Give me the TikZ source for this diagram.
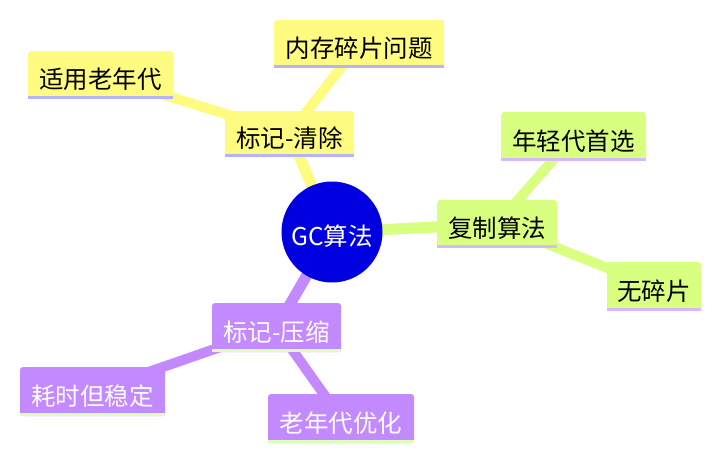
\documentclass[tikz,border=0pt]{standalone}
\usepackage{fontspec}
\setmainfont{Noto Sans CJK SC}
\usetikzlibrary{backgrounds}
\definecolor{yel}{HTML}{FFFB80}
\definecolor{grn}{HTML}{D9FF80}
\definecolor{pur}{HTML}{C389FF}
\definecolor{rootblue}{HTML}{0000E0}
\definecolor{ulyel}{HTML}{B3B3FF}
\definecolor{ulgrn}{HTML}{D6B8FF}
\definecolor{ulpur}{HTML}{DCFFB8}
\tikzset{
  mmtext/.style={font=\fontsize{24.5}{28}\selectfont, text height=27pt, text depth=0pt},
  mmbox/.style={rectangle, rounded corners=3pt, inner sep=0pt, anchor=center, mmtext},
  ybox/.style={mmbox, fill=yel, text=black},
  gbox/.style={mmbox, fill=grn, text=black},
  pbox/.style={mmbox, fill=pur, text=white},
  lineA/.style={line width=11pt},
  lineB/.style={line width=10pt},
}
\newcommand{\ulstrip}[2]{\fill[#2] (#1.south west) rectangle ([yshift=3pt]#1.south east);}
\begin{document}
\begin{tikzpicture}[x=1pt,y=-1pt]
\useasboundingbox (0,0) rectangle (722,461);
% root
\node[circle, fill=rootblue, text=white, minimum size=101pt, inner sep=0pt, mmtext] (root) at (332,232) {GC算法};
% level 1
\node[ybox, minimum width=129pt, minimum height=46pt] (mc) at (289.5,134) {标记-清除};
\node[gbox, minimum width=120pt, minimum height=48pt] (cp) at (497,224) {复制算法};
\node[pbox, minimum width=129pt, minimum height=49pt] (mz) at (276.5,327.5) {标记-压缩};
% level 2
\node[ybox, minimum width=145pt, minimum height=48pt] (old1) at (100.5,75) {适用老年代};
\node[ybox, minimum width=170pt, minimum height=48pt] (frag) at (359,44) {内存碎片问题};
\node[gbox, minimum width=145pt, minimum height=49pt] (young) at (573.5,136.5) {年轻代首选};
\node[gbox, minimum width=94pt, minimum height=49pt] (nofrag) at (654,286.5) {无碎片};
\node[pbox, minimum width=145pt, minimum height=49pt] (slow) at (92.5,391.5) {耗时但稳定};
\node[pbox, minimum width=146pt, minimum height=49pt] (oldopt) at (341,418.5) {老年代优化};
% underline strips
\ulstrip{mc}{ulyel}
\ulstrip{old1}{ulyel}
\ulstrip{frag}{ulyel}
\ulstrip{cp}{ulgrn}
\ulstrip{young}{ulgrn}
\ulstrip{nofrag}{ulgrn}
\ulstrip{mz}{ulpur}
\ulstrip{slow}{ulpur}
\ulstrip{oldopt}{ulpur}
% connectors
\begin{pgfonlayer}{background}
\draw[lineA, yel] (root.center) -- (mc.center);
\draw[lineA, grn] (root.center) -- (cp.center);
\draw[lineA, pur] (root.center) -- (mz.center);
\draw[lineB, yel] (mc.center) -- (old1.center);
\draw[lineB, yel] (mc.center) -- (frag.center);
\draw[lineB, grn] (cp.center) -- (young.center);
\draw[lineB, grn] (cp.center) -- (nofrag.center);
\draw[lineB, pur] (mz.center) -- (slow.center);
\draw[lineB, pur] (mz.center) -- (oldopt.center);
\end{pgfonlayer}
\end{tikzpicture}
\end{document}
